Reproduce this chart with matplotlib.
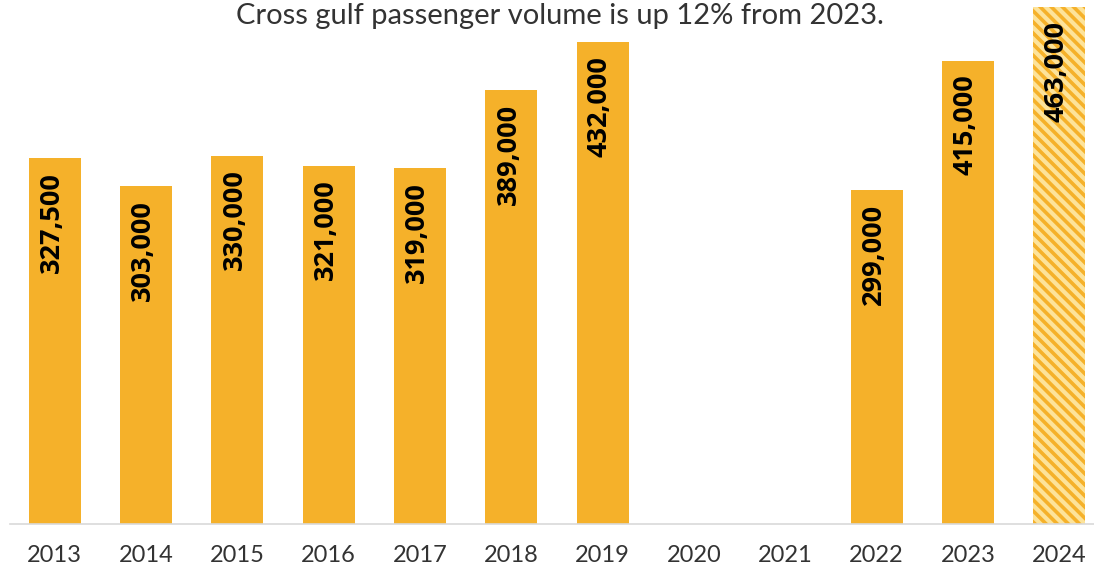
import matplotlib
matplotlib.use("Agg")
import matplotlib.pyplot as plt

# passenger counts per year (2020 and 2021 had no service)
years = ["2013", "2014", "2015", "2016", "2017", "2018", "2019",
         "2020", "2021", "2022", "2023", "2024"]
passengers = [327500, 303000, 330000, 321000, 319000, 389000, 432000,
              0, 0, 299000, 415000, 463000]
projected = [False] * 11 + [True]

title = "Cross gulf passenger volume is up 12% from 2023."

bar_color = "#F5B12A"
light_color = "#FDE39A"

plt.rcParams["hatch.linewidth"] = 2.6
plt.rcParams["hatch.color"] = bar_color

fig = plt.figure(figsize=(10.94, 5.68), dpi=100)
ax = fig.add_axes([10 / 1094, 44 / 568, 1084 / 1094, 524 / 568])

x = list(range(len(years)))
for i, v in enumerate(passengers):
    if v == 0:
        continue
    if projected[i]:
        ax.bar(i, v, width=0.57, color=light_color, edgecolor=bar_color,
               linewidth=0, hatch="\\\\\\")
    else:
        ax.bar(i, v, width=0.57, color=bar_color, linewidth=0)
    ax.annotate(f"{v:,}", xy=(i, v), xytext=(-2, -10), textcoords="offset points",
                rotation=90, ha="center", va="top", fontsize=19.5,
                fontweight="bold", family="Open Sans", color="black")

ax.set_xlim(-0.49, 11.38)
ax.set_ylim(0, 469500)
ax.set_xticks(x)
ax.set_xticklabels(years, fontsize=17, family="Lato", color="#333333")
ax.tick_params(axis="x", length=0, pad=15)
ax.set_yticks([])
for side in ["top", "right", "left"]:
    ax.spines[side].set_visible(False)
ax.spines["bottom"].set_color("#D9D9D9")
ax.spines["bottom"].set_linewidth(1.2)
ax.patch.set_alpha(0)

fig.text(560 / 1094, 1 - 16 / 568, title, ha="center", va="center",
         fontsize=21, family="Lato", color="#333333")

fig.savefig("out.png", dpi=100)
